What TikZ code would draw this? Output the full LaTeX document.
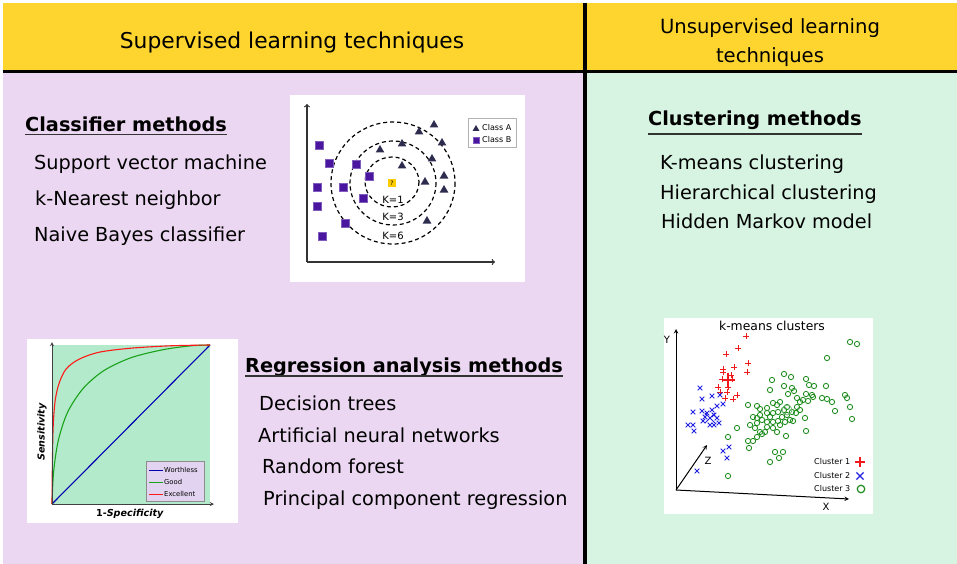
\documentclass[tikz,border=0pt]{standalone}
\usepackage{fontspec}
\setmainfont{DejaVu Sans}
\usetikzlibrary{shapes.geometric,shapes.misc}
\definecolor{hdryellow}{RGB}{254,213,46}
\definecolor{suppink}{RGB}{236,215,242}
\definecolor{unsgreen}{RGB}{215,244,226}
\definecolor{rocgreen}{RGB}{179,234,203}
\definecolor{roclegend}{RGB}{226,212,240}
\definecolor{knnviolet}{RGB}{74,22,160}
\definecolor{knnnavy}{RGB}{45,43,78}
\definecolor{qyellow}{RGB}{255,204,0}
\definecolor{kmred}{RGB}{240,25,25}
\definecolor{kmblue}{RGB}{35,35,225}
\definecolor{kmgreen}{RGB}{30,140,30}
\begin{document}
\begin{tikzpicture}[x=1pt,y=-1pt,>=stealth]
    \tikzstyle{hdr}=[inner sep=0,anchor=base,font=\fontsize{21.8}{26}\selectfont]
    \tikzstyle{hdrr}=[inner sep=0,anchor=base,font=\fontsize{19.6}{24}\selectfont]
    \tikzstyle{sec}=[inner sep=0,anchor=base west,font=\bfseries\fontsize{19.3}{23}\selectfont]
    \tikzstyle{item}=[inner sep=0,anchor=base west,font=\fontsize{19.3}{23}\selectfont]
    \tikzstyle{ul}=[line width=1.4pt,black!80]
    \tikzstyle{panel}=[fill=white]
    \tikzstyle{sq}=[rectangle,fill=knnviolet,draw=knnviolet!70,line width=0.3pt,minimum size=7.5pt,inner sep=0]
    \tikzstyle{tri}=[regular polygon,regular polygon sides=3,fill=knnnavy,minimum size=10pt,inner sep=0]
    \tikzstyle{ring}=[dashed,line width=1.2pt,dash pattern=on 4pt off 3pt]
    \tikzstyle{klbl}=[fill=white,inner sep=0.6pt,font=\fontsize{10}{10}\selectfont]
    \tikzstyle{tiny}=[inner sep=0,anchor=west,font=\fontsize{8}{8}\selectfont]
    \tikzstyle{axlbl}=[font=\fontsize{10}{10}\selectfont]
    \tikzstyle{plusmk}=[cross out,rotate=45,draw=kmred,line width=0.9pt,minimum size=3.6pt,inner sep=0]
    \tikzstyle{xmk}=[cross out,draw=kmblue,line width=0.8pt,minimum size=3.8pt,inner sep=0]
    \tikzstyle{omk}=[circle,draw=kmgreen,line width=0.85pt,minimum size=5.3pt,inner sep=0]

    \useasboundingbox (0,0) rectangle (957,564);
    \fill[white] (0,0) rectangle (957,564);
    \fill[hdryellow] (3,3) rectangle (957,72);
    \fill[suppink] (3,72) rectangle (585,564);
    \fill[unsgreen] (585,72) rectangle (957,564);
    \draw[line width=3pt] (3,72) -- (957,72);
    \draw[line width=3.5pt] (585,3) -- (585,564);

    \node[hdr] (suphd) at (292,49) {Supervised learning techniques};
    \node[hdrr] (unshd) at (770,34) {Unsupervised learning};
    \node[hdrr] (unshdb) at (770,63) {techniques};

    \node[sec] (clshd) at (25,132) {Classifier methods};
    \draw[ul] ([yshift=-2.5pt]clshd.base west) -- ([yshift=-2.5pt]clshd.base east);
    \node[item] (svm) at (34,169) {Support vector machine};
    \node[item] (knn) at (35,205) {k-Nearest neighbor};
    \node[item] (nbc) at (34,241) {Naive Bayes classifier};

    \node[sec] (reghd) at (245,372) {Regression analysis methods};
    \draw[ul] ([yshift=-4pt]reghd.base west) -- ([yshift=-4pt]reghd.base east);
    \node[item] (dtr) at (259,410) {Decision trees};
    \node[item] (ann) at (258,442) {Artificial neural networks};
    \node[item] (rnf) at (262,473) {Random forest};
    \node[item] (pcr) at (263,505) {Principal component regression};

    \node[sec] (clhd) at (648,126) {Clustering methods};
    \draw[ul] ([yshift=-8pt]clhd.base west) -- ([yshift=-8pt]clhd.base east);
    \node[item] (kmc) at (660,170) {K-means clustering};
    \node[item] (hic) at (660,199) {Hierarchical clustering};
    \node[item] (hmm) at (661,228) {Hidden Markov model};

    \fill[panel] (290,95) rectangle (525,282);
    \coordinate (ko) at (307,262);
    \coordinate (ky) at (307,104);
    \coordinate (kx) at (495,262);
    \draw[-to,line width=1.2pt,black!80] (ko) -- (ky);
    \draw[-to,line width=1.2pt,black!80] (ko) -- (kx);
    \draw[ring] (393,183) ellipse (62 and 61);
    \draw[ring] (393,183) ellipse (43 and 42);
    \draw[ring] (392,182) ellipse (27 and 25);
    \foreach \x/\y [count=\i] in {319/145,329/163,356/164,369/176,317/187,343/187,317/206,363/198,345/223,322/236}
        \node[sq] (sq\i) at (\x,\y) {};
    \foreach \x/\y [count=\i] in {434/125,419/132,442/143,402/144,380/150,432/159,402/166,425/182,444/176,444/190,427/221}
        \node[tri] (tr\i) at (\x,\y) {};
    \node[fill=qyellow,minimum size=8pt,inner sep=0,font=\fontsize{6}{6}\selectfont] (qry) at (392,183) {?};
    \node[klbl] (kone) at (393,200) {K=1};
    \node[klbl] (kthree) at (393,217) {K=3};
    \node[klbl] (ksix) at (393,236) {K=6};
    \draw[black!30,fill=white] (468,118) rectangle (516,147);
    \node[tri,minimum size=8pt] (lgtri) at (476,129) {};
    \node[tiny] (lga) at (482,128) {Class A};
    \node[sq,minimum size=6.5pt] (lgsq) at (476,140) {};
    \node[tiny] (lgb) at (482,140) {Class B};

    \fill[panel] (27,339) rectangle (238,523);
    \fill[rocgreen] (52,345) rectangle (210,504);
    \begin{scope}[shift={(52,504)},x=158pt,y=159pt]
        \draw[line width=1.1pt,blue!70!black] (0,0) -- (1,1);
        \draw[line width=1.1pt,green!60!black!90] plot[smooth] coordinates {(0,0) (0.01,0.2) (0.04,0.4) (0.1,0.58) (0.2,0.73) (0.33,0.84) (0.5,0.92) (0.7,0.97) (0.88,0.995) (1,1)};
        \draw[line width=1.1pt,red!90] plot[smooth] coordinates {(0,0) (0.003,0.3) (0.008,0.5) (0.02,0.65) (0.045,0.76) (0.09,0.85) (0.17,0.91) (0.3,0.955) (0.5,0.98) (0.75,0.995) (1,1)};
    \end{scope}
    \coordinate (ro) at (52,504);
    \coordinate (ry) at (52,342);
    \coordinate (rx) at (214,504);
    \draw[->,line width=0.9pt,black!75] (ro) -- (ry);
    \draw[->,line width=0.9pt,black!75] (ro) -- (rx);
    \node[rotate=90,font=\bfseries\itshape\fontsize{9.6}{10}\selectfont] (sens) at (42,432) {Sensitivity};
    \node[font=\bfseries\fontsize{9.6}{10}\selectfont] (spec) at (130,514) {1-\textit{Specificity}};
    \draw[black!45,fill=roclegend] (146,461) rectangle (204,501);
    \draw[line width=0.8pt,blue!70!black] (149,470) -- (163,470);
    \node[tiny,font=\fontsize{6.8}{7}\selectfont] (lwo) at (164,470) {Worthless};
    \draw[line width=0.8pt,green!60!black!90] (149,482) -- (163,482);
    \node[tiny,font=\fontsize{6.8}{7}\selectfont] (lgo) at (164,482) {Good};
    \draw[line width=0.8pt,red!90] (149,494) -- (163,494);
    \node[tiny,font=\fontsize{6.8}{7}\selectfont] (lex) at (164,494) {Excellent};

    \fill[panel] (664,318) rectangle (873,514);
    \node[font=\fontsize{12.4}{13}\selectfont] (kmt) at (772,326) {k-means clusters};
    \coordinate (mo) at (676,490);
    \coordinate (my) at (676,329);
    \coordinate (mx) at (849,499);
    \coordinate (mz) at (707,445);
    \draw[-stealth,line width=1pt] (mo) -- (my);
    \draw[-stealth,line width=1pt] (mo) -- (mx);
    \draw[-stealth,line width=1pt] (mo) -- (mz);
    \node[axlbl] (ylab) at (667,340) {Y};
    \node[axlbl] (xlab) at (826,507) {X};
    \node[axlbl] (zlab) at (708,461) {Z};
    \foreach \x/\y [count=\i] in {850/342,857/344,827/358,784/374,791/377,772/380,806/379,809/385,814/386,826/386,784/386,770/390,792/388,794/391,806/394,812/395,788/394,748/405,757/406,760/409,767/408,773/403,777/405,780/402,797/398,800/402,803/400,808/401,813/397,822/398,827/399,832/402,845/395,847/398,850/407,835/411,787/407,784/410,778/412,773/413,767/413,760/415,753/417,757/418,792/412,796/413,787/415,782/417,778/421,773/422,767/422,762/420,757/423,750/425,755/428,760/432,767/427,773/428,780/425,785/422,790/420,793/421,805/418,806/431,786/436,762/434,757/437,753/441,748/441,749/448,737/428,728/437,852/419,775/452,783/452,779/458,770/462,728/476,797/407,800/410,770/417,765/432,777/432}
        \node[omk] (gr\i) at (\x,\y) {};
    \node[omk,minimum size=10pt,draw=kmgreen!60] (grc) at (787,410) {};
    \foreach \x/\y [count=\i] in {746/336,738/348,726/354,748/363,734/367,723/369,747/372,722/379,732/379,718/387,728/387,720/392,737/395,725/398,733/399,723/372,731/375,727/392}
        \node[plusmk] (rd\i) at (\x,\y) {};
    \node[plusmk,minimum size=8pt,line width=1.2pt] (rdc) at (728,380) {};
    \foreach \x/\y [count=\i] in {700/388,702/399,712/396,720/395,717/406,723/404,693/412,702/411,707/413,714/415,703/421,717/418,688/425,693/425,694/431,710/425,714/425,719/423,723/451,729/447,727/458,697/471,705/417,712/410}
        \node[xmk] (bl\i) at (\x,\y) {};
    \node[xmk,minimum size=9pt,line width=1pt] (blc) at (710,418) {};
    \node[tiny] (lc1) at (814,462) {Cluster 1};
    \node[plusmk,minimum size=5.5pt,line width=1.2pt] (lm1) at (860,462) {};
    \node[tiny] (lc2) at (814,476) {Cluster 2};
    \node[xmk,minimum size=6pt,line width=1.2pt] (lm2) at (860,476) {};
    \node[tiny] (lc3) at (814,489) {Cluster 3};
    \node[omk,minimum size=7.5pt,line width=1.2pt] (lm3) at (861,489) {};
\end{tikzpicture}
\end{document}
